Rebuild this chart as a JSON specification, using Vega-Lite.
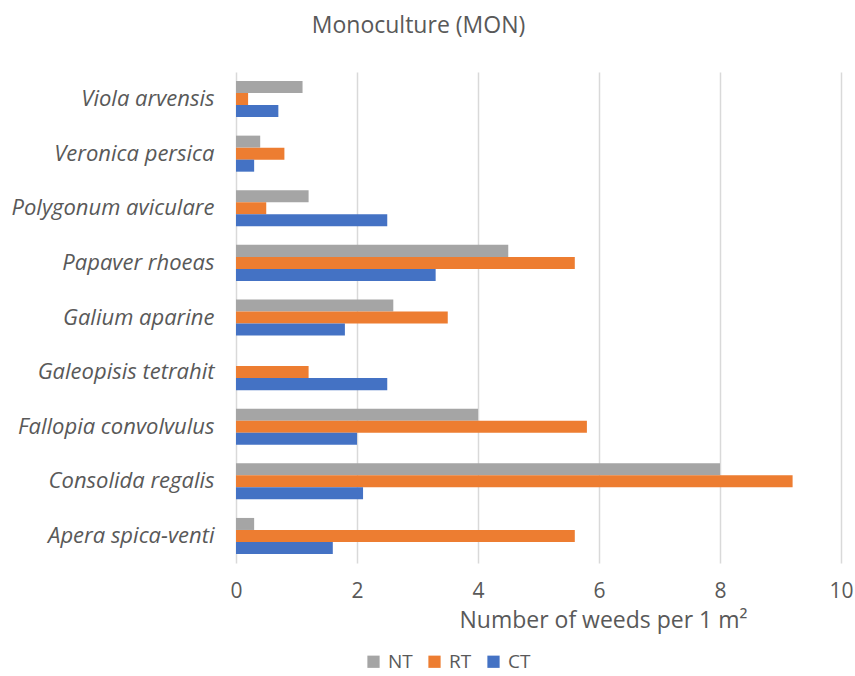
{
  "$schema": "https://vega.github.io/schema/vega-lite/v6.json",
  "width": 605,
  "height": 491,
  "autosize": {"type": "none"},
  "padding": {"left": 236, "top": 72, "right": 14, "bottom": 113},
  "background": "white",
  "config": {
    "font": "Open Sans",
    "view": {"stroke": null},
    "axis": {"labelColor": "#595959", "titleColor": "#595959", "labelFont": "Open Sans", "titleFont": "Open Sans"},
    "legend": {"labelColor": "#595959", "labelFont": "Open Sans"}
  },
  "title": {
    "text": "Monoculture (MON)",
    "anchor": "middle",
    "frame": "group",
    "dx": -120,
    "offset": 34,
    "fontSize": 23,
    "fontWeight": "normal",
    "color": "#595959",
    "font": "Open Sans"
  },
  "data": {
    "values": [
      {"species": "Viola arvensis", "tillage": "NT", "weeds": 1.1},
      {"species": "Viola arvensis", "tillage": "RT", "weeds": 0.2},
      {"species": "Viola arvensis", "tillage": "CT", "weeds": 0.7},
      {"species": "Veronica persica", "tillage": "NT", "weeds": 0.4},
      {"species": "Veronica persica", "tillage": "RT", "weeds": 0.8},
      {"species": "Veronica persica", "tillage": "CT", "weeds": 0.3},
      {"species": "Polygonum aviculare", "tillage": "NT", "weeds": 1.2},
      {"species": "Polygonum aviculare", "tillage": "RT", "weeds": 0.5},
      {"species": "Polygonum aviculare", "tillage": "CT", "weeds": 2.5},
      {"species": "Papaver rhoeas", "tillage": "NT", "weeds": 4.5},
      {"species": "Papaver rhoeas", "tillage": "RT", "weeds": 5.6},
      {"species": "Papaver rhoeas", "tillage": "CT", "weeds": 3.3},
      {"species": "Galium aparine", "tillage": "NT", "weeds": 2.6},
      {"species": "Galium aparine", "tillage": "RT", "weeds": 3.5},
      {"species": "Galium aparine", "tillage": "CT", "weeds": 1.8},
      {"species": "Galeopisis tetrahit", "tillage": "RT", "weeds": 1.2},
      {"species": "Galeopisis tetrahit", "tillage": "CT", "weeds": 2.5},
      {"species": "Fallopia convolvulus", "tillage": "NT", "weeds": 4.0},
      {"species": "Fallopia convolvulus", "tillage": "RT", "weeds": 5.8},
      {"species": "Fallopia convolvulus", "tillage": "CT", "weeds": 2.0},
      {"species": "Consolida regalis", "tillage": "NT", "weeds": 8.0},
      {"species": "Consolida regalis", "tillage": "RT", "weeds": 9.2},
      {"species": "Consolida regalis", "tillage": "CT", "weeds": 2.1},
      {"species": "Apera spica-venti", "tillage": "NT", "weeds": 0.3},
      {"species": "Apera spica-venti", "tillage": "RT", "weeds": 5.6},
      {"species": "Apera spica-venti", "tillage": "CT", "weeds": 1.6}
    ]
  },
  "mark": {"type": "bar"},
  "encoding": {
    "y": {
      "field": "species",
      "type": "nominal",
      "sort": ["Viola arvensis", "Veronica persica", "Polygonum aviculare", "Papaver rhoeas", "Galium aparine", "Galeopisis tetrahit", "Fallopia convolvulus", "Consolida regalis", "Apera spica-venti"],
      "scale": {"paddingInner": 0.34, "paddingOuter": 0.165},
      "axis": {
        "title": null,
        "ticks": false,
        "domain": false,
        "labelFontSize": 22,
        "labelFontStyle": "italic",
        "labelPadding": 22,
        "labelLimit": 300
      }
    },
    "yOffset": {
      "field": "tillage",
      "type": "nominal",
      "sort": ["NT", "RT", "CT"],
      "scale": {"paddingInner": 0, "paddingOuter": 0}
    },
    "x": {
      "field": "weeds",
      "type": "quantitative",
      "scale": {"domain": [0, 10], "nice": false},
      "axis": {
        "title": "Number of weeds per 1 m²",
        "values": [0, 2, 4, 6, 8, 10],
        "ticks": false,
        "domain": false,
        "grid": true,
        "gridColor": "#d9d9d9",
        "gridWidth": 1.5,
        "labelFontSize": 21,
        "labelPadding": 17,
        "labelFlush": false,
        "titleFontSize": 23,
        "titleFontWeight": "normal",
        "titleX": 367,
        "titleY": 46,
        "titleAlign": "center"
      }
    },
    "color": {
      "field": "tillage",
      "type": "nominal",
      "sort": ["NT", "RT", "CT"],
      "scale": {"domain": ["NT", "RT", "CT"], "range": ["#a5a5a5", "#ed7d31", "#4472c4"]},
      "legend": {
        "title": null,
        "orient": "none",
        "direction": "horizontal",
        "legendX": 128,
        "legendY": 580,
        "symbolType": "square",
        "symbolSize": 150,
        "symbolStrokeWidth": 0,
        "labelFontSize": 19,
        "labelOffset": 5,
        "columnPadding": 12
      }
    }
  }
}
